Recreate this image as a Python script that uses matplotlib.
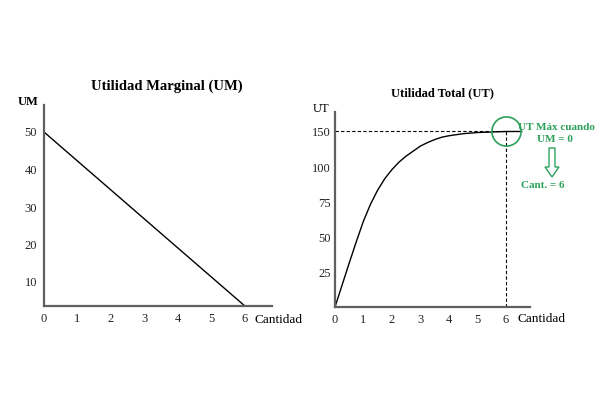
import numpy as np
import matplotlib
matplotlib.use("Agg")
import matplotlib.pyplot as plt

plt.rcParams['font.family'] = ['Liberation Serif', 'DejaVu Serif']

# Utilidad marginal (recta)
cant_um = [0, 6]
um = [50, 0]
um_ticks = [10, 20, 30, 40, 50]

# Utilidad total
cant_ut = [0, 0.25, 0.5, 0.75, 1.0, 1.25, 1.5, 1.75, 2.0, 2.25, 2.5, 2.75,
           3.0, 3.25, 3.5, 3.75, 4.0, 4.5, 5.0, 5.5, 6.0, 6.55]
ut = [0, 15.8, 31.7, 47.1, 61.9, 74.1, 84.2, 92.4, 98.9, 108.2, 116.4, 123.3,
      130.1, 134.9, 139.0, 142.2, 144.2, 147.0, 148.6, 149.3, 150, 150]
ut_ticks = [25, 50, 75, 100, 150]

cant_ticks = [0, 1, 2, 3, 4, 5, 6]
cant_max = 6
ut_max = 150

verde = '#2ca05a'
gris = '#606060'


def escala(valores, alturas):
    # escala por tramos (el dibujo original no es lineal)
    def fwd(v):
        return np.interp(v, valores, alturas)

    def inv(h):
        return np.interp(h, alturas, valores)
    return fwd, inv


def preparar_ejes(ax):
    for lado in ['top', 'right']:
        ax.spines[lado].set_visible(False)
    for lado in ['left', 'bottom']:
        ax.spines[lado].set_color(gris)
        ax.spines[lado].set_linewidth(1.6)
    ax.tick_params(length=0, labelsize=9, colors='#222222')
    ax.tick_params(axis='x', pad=5)
    ax.set_xticks(cant_ticks)
    ax.patch.set_visible(False)


fig = plt.figure(figsize=(6, 4), dpi=100)

# --- Utilidad Marginal ---
ax1 = fig.add_axes([0.0733, 0.235, 0.38, 0.5025])
ax1.set_yscale('function', functions=escala([-100, 0, 10, 50, 100],
                                             [-240, 0, 24, 174, 361.5]))
ax1.plot(cant_um, um, color='black', lw=1)
ax1.set_xlim(0, 6.81)
ax1.set_ylim(0, 57.2)
ax1.set_yticks(um_ticks)
preparar_ejes(ax1)
ax1.tick_params(axis='y', pad=5)
ax1.set_title('Utilidad Marginal (UM)', fontsize=10.5, fontweight='bold',
              pad=11, x=0.54)
ax1.text(-0.07, 0.985, 'UM', transform=ax1.transAxes, fontsize=9,
         fontweight='bold', ha='center', va='bottom')
ax1.text(1.0 - 0.075, -0.07, 'Cantidad', transform=ax1.transAxes,
         fontsize=9.5, ha='left', va='center')

# --- Utilidad Total ---
ax2 = fig.add_axes([0.5583, 0.2325, 0.325, 0.4875])
ax2.set_yscale('function', functions=escala([-100, 0, 100, 150, 250],
                                             [-139, 0, 139, 175.5, 248.5]))
ax2.plot(cant_ut, ut, color='black', lw=1, solid_joinstyle='round')
ax2.plot([0, cant_max], [ut_max, ut_max], color='black', lw=0.8,
         ls=(0, (3, 2)))
ax2.plot([cant_max, cant_max], [0, ut_max], color='black', lw=0.8,
         ls=(0, (3, 2)))
ax2.plot([cant_max], [ut_max], 'o', ms=21, mfc='none', mec=verde, mew=1.2)
ax2.set_xlim(0, 6.84)
ax2.set_ylim(0, 176.7)
ax2.set_yticks(ut_ticks)
preparar_ejes(ax2)
ax2.tick_params(axis='y', pad=3)
ax2.set_title('Utilidad Total (UT)', fontsize=9, fontweight='bold', pad=11,
              x=0.55)
ax2.text(-0.07, 0.985, 'UT', transform=ax2.transAxes, fontsize=9,
         ha='center', va='bottom')
ax2.text(0.935, -0.06, 'Cantidad', transform=ax2.transAxes,
         fontsize=9.5, ha='left', va='center')

# anotaciones en verde
fig.text(556 / 600, 1 - 127 / 400, 'UT Máx cuando', color=verde,
         fontsize=8, fontweight='bold', ha='center', va='center')
fig.text(555 / 600, 1 - 140 / 400, 'UM = 0', color=verde,
         fontsize=8, fontweight='bold', ha='center', va='center')
fig.text(543 / 600, 1 - 185 / 400, 'Cant. = 6', color=verde,
         fontsize=8, fontweight='bold', ha='center', va='center')
fig.add_artist(matplotlib.patches.FancyArrow(
    552 / 600, 1 - 148 / 400, 0, -29 / 400, width=6 / 600,
    head_width=14 / 600, head_length=10 / 400, length_includes_head=True,
    transform=fig.transFigure, fc='white', ec=verde, lw=1))

fig.savefig('out.png', dpi=100)
